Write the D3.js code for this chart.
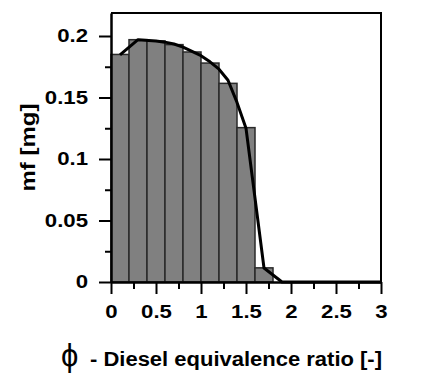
<!DOCTYPE html>
<html>
<head>
<meta charset="utf-8">
<script src="https://cdn.jsdelivr.net/npm/d3@7"></script>
<style>
  body { margin: 0; background: #fff; }
  text { font-family: "Liberation Sans", Arial, sans-serif; }
</style>
</head>
<body>
<div id="chart"></div>
<script>
// bins of diesel equivalence ratio (left edges, width 0.2)
let binStarts = [0, 0.2, 0.4, 0.6, 0.8, 1.0, 1.2, 1.4, 1.6];
let binWidth = 0.2;
let binMass = [0.185, 0.197, 0.196, 0.193, 0.187, 0.178, 0.1615, 0.1255, 0.0115];

// fitted curve
let curvePhi = [0.1, 0.3, 0.5, 0.6, 0.7, 0.8, 0.9, 1.0, 1.1, 1.2, 1.3, 1.4, 1.5, 1.7, 1.9, 3.0];
let curveMass = [0.1846, 0.197, 0.196, 0.195, 0.1935, 0.191, 0.1875, 0.184, 0.179, 0.173, 0.164, 0.146, 0.125, 0.0114, 0, 0];

let xTicks = [0, 0.5, 1, 1.5, 2, 2.5, 3];
let yTicks = [0, 0.05, 0.1, 0.15, 0.2];

let width = 429, height = 376;
let margin = {top: 13, right: 48, bottom: 94, left: 111};
let stretch = 1.2; // labels in the original are wide

let svg = d3.select("#chart").append("svg")
    .attr("width", width)
    .attr("height", height);

let x = d3.scaleLinear().domain([0, 3]).range([margin.left, width - margin.right]);
let y = d3.scaleLinear().domain([0, 0.2187]).range([height - margin.bottom, margin.top]);

// bars
svg.selectAll("rect.bin")
    .data(binStarts)
    .enter().append("rect")
    .attr("class", "bin")
    .attr("x", d => x(d))
    .attr("y", (d, i) => y(binMass[i]))
    .attr("width", d => x(d + binWidth) - x(d))
    .attr("height", (d, i) => y(0) - y(binMass[i]))
    .attr("fill", "#808080")
    .attr("stroke", "#2a2a2a")
    .attr("stroke-width", 1.5);

// frame (top + right)
svg.append("path")
    .attr("d", `M${x(0)},${y.range()[1]}H${x(3)}V${y(0)}`)
    .attr("fill", "none")
    .attr("stroke", "#000")
    .attr("stroke-width", 2);

// curve
let line = d3.line()
    .x((d, i) => x(d))
    .y((d, i) => y(curveMass[i]));

svg.append("path")
    .attr("d", line(curvePhi))
    .attr("fill", "none")
    .attr("stroke", "#000")
    .attr("stroke-width", 3)
    .attr("stroke-linejoin", "round");

// x axis - minor then major
svg.append("g")
    .attr("transform", `translate(0,${y(0)})`)
    .call(d3.axisBottom(x).tickValues(d3.range(0.25, 3, 0.5)).tickSize(7).tickFormat(""))
    .call(g => g.select(".domain").remove())
    .selectAll("line").attr("stroke-width", 2);

let xAxis = svg.append("g")
    .attr("transform", `translate(0,${y(0)})`)
    .call(d3.axisBottom(x).tickValues(xTicks).tickSize(12).tickPadding(11).tickSizeOuter(0).tickFormat(d3.format("")));
xAxis.select(".domain").attr("stroke-width", 2.5);
xAxis.selectAll("line").attr("stroke-width", 2);
xAxis.selectAll("text")
    .attr("font-size", 18.5)
    .attr("font-weight", "bold")
    .attr("fill", "#000")
    .attr("transform", `scale(${stretch},1)`);

// y axis
svg.append("g")
    .attr("transform", `translate(${x(0)},0)`)
    .call(d3.axisLeft(y).tickValues([0.025, 0.075, 0.125, 0.175]).tickSize(6).tickFormat(""))
    .call(g => g.select(".domain").remove())
    .selectAll("line").attr("stroke-width", 2);

let yAxis = svg.append("g")
    .attr("transform", `translate(${x(0)},0)`)
    .call(d3.axisLeft(y).tickValues(yTicks).tickSize(12).tickPadding(10).tickSizeOuter(0).tickFormat(d3.format("")));
yAxis.select(".domain").attr("stroke-width", 2.5);
yAxis.selectAll("line").attr("stroke-width", 2);
yAxis.selectAll("text")
    .attr("font-size", 18.5)
    .attr("font-weight", "bold")
    .attr("fill", "#000")
    .attr("x", -23 / stretch)
    .attr("transform", `scale(${stretch},1)`);

// y title
svg.append("text")
    .attr("transform", `translate(35,${(y(0) + y.range()[1]) / 2}) rotate(-90)`)
    .attr("text-anchor", "middle")
    .attr("font-size", 21)
    .attr("font-weight", "bold")
    .attr("textLength", 88)
    .attr("lengthAdjust", "spacingAndGlyphs")
    .text("mf [mg]");

// x title
svg.append("text")
    .attr("x", 61)
    .attr("y", 366)
    .attr("font-family", "DejaVu Serif, serif")
    .attr("font-size", 31)
    .text("ϕ");

svg.append("text")
    .attr("x", 90)
    .attr("y", 366)
    .attr("font-size", 20)
    .attr("font-weight", "bold")
    .attr("textLength", 292)
    .attr("lengthAdjust", "spacingAndGlyphs")
    .text("- Diesel equivalence ratio [-]");
</script>
</body>
</html>
